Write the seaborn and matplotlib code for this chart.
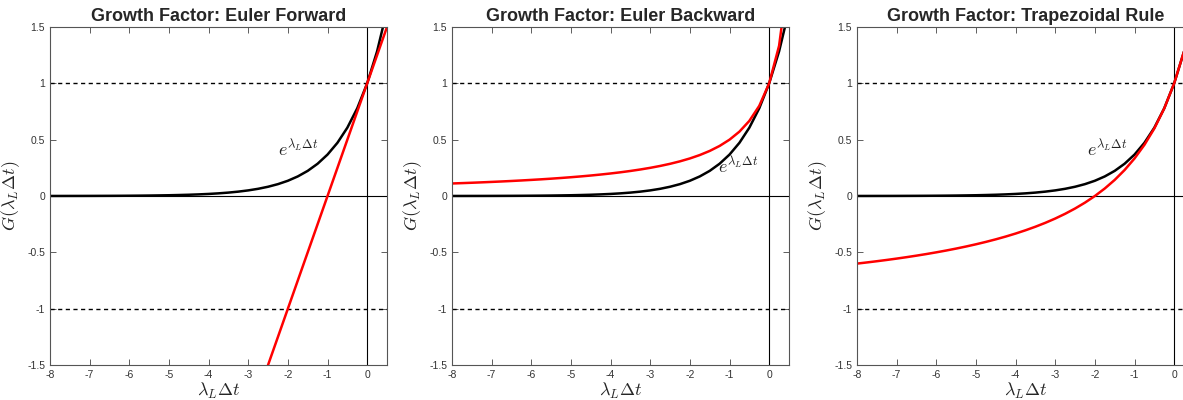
import numpy as np
import pandas as pd
import seaborn as sns
import matplotlib.pyplot as plt

# sample points along lambda_L * dt
x_vals = [-8, -7.75, -7.5, -7.25, -7, -6.75, -6.5, -6.25, -6, -5.75, -5.5, -5.25,
          -5, -4.75, -4.5, -4.25, -4, -3.75, -3.5, -3.25, -3, -2.75, -2.5, -2.25,
          -2, -1.75, -1.5, -1.25, -1, -0.75, -0.5, -0.25, 0, 0.25, 0.5]

# exact growth e^(lambda dt)
exact_g = [0.0003, 0.0004, 0.0006, 0.0007, 0.0009, 0.0012, 0.0015, 0.0019, 0.0025, 0.0032,
           0.0041, 0.0053, 0.0067, 0.0087, 0.0111, 0.0143, 0.0183, 0.0235, 0.0302, 0.0388,
           0.0498, 0.0639, 0.0821, 0.1054, 0.1353, 0.1738, 0.2231, 0.2865, 0.3679, 0.4724,
           0.6065, 0.7788, 1.0, 1.284, 1.6487]

forward_g = [-7, -6.75, -6.5, -6.25, -6, -5.75, -5.5, -5.25, -5, -4.75, -4.5, -4.25,
             -4, -3.75, -3.5, -3.25, -3, -2.75, -2.5, -2.25, -2, -1.75, -1.5, -1.25,
             -1, -0.75, -0.5, -0.25, 0, 0.25, 0.5, 0.75, 1.0, 1.25, 1.5]

backward_g = [0.1111, 0.1143, 0.1176, 0.1212, 0.125, 0.129, 0.1333, 0.1379, 0.1429, 0.1481,
              0.1538, 0.16, 0.1667, 0.1739, 0.1818, 0.1905, 0.2, 0.2105, 0.2222, 0.2353,
              0.25, 0.2667, 0.2857, 0.3077, 0.3333, 0.3636, 0.4, 0.4444, 0.5, 0.5714,
              0.6667, 0.8, 1.0, 1.3333, 2.0]

trap_g = [-0.6, -0.5897, -0.5789, -0.5676, -0.5556, -0.5429, -0.5294, -0.5152, -0.5, -0.4839,
          -0.4667, -0.4483, -0.4286, -0.4074, -0.3846, -0.36, -0.3333, -0.3043, -0.2727, -0.2381,
          -0.2, -0.1579, -0.1111, -0.0588, 0.0, 0.0667, 0.1429, 0.2308, 0.3333, 0.4545,
          0.6, 0.7778, 1.0, 1.2857, 1.6667]

titles = ['Growth Factor: Euler Forward', 'Growth Factor: Euler Backward',
          'Growth Factor: Trapezoidal Rule']
schemes = [forward_g, backward_g, trap_g]
label_pos = [(-2.25, 0.35), (-1.3, 0.2), (-2.2, 0.35)]
x_ticks = [-8, -7, -6, -5, -4, -3, -2, -1, 0]
y_ticks = [-1.5, -1, -0.5, 0, 0.5, 1, 1.5]

sns.set_style('white')
plt.rcParams['font.family'] = ['Liberation Sans', 'DejaVu Sans']
plt.rcParams['mathtext.fontset'] = 'cm'
plt.rcParams['axes.unicode_minus'] = False

W, H = 1183, 400
fig = plt.figure(figsize=(W / 100, H / 100), dpi=100)
lefts = [50, 452, 857]
top, bottom, width = 27, 365, 337

for i in range(3):
    ax = fig.add_axes([lefts[i] / W, 1 - bottom / H, width / W, (bottom - top) / H])
    df = pd.DataFrame({'x': x_vals, 'exact': exact_g, 'scheme': schemes[i]})
    ax.axhline(0, color='black', lw=0.8)
    ax.axvline(0, color='black', lw=0.8)
    ax.axhline(1, color='black', lw=1.0, ls=(0, (3, 2.5)))
    ax.axhline(-1, color='black', lw=1.0, ls=(0, (3, 2.5)))
    sns.lineplot(data=df, x='x', y='exact', color='black', lw=1.8, ax=ax)
    sns.lineplot(data=df, x='x', y='scheme', color='#ff0000', lw=1.8, ax=ax)
    ax.text(label_pos[i][0], label_pos[i][1], r'$e^{\lambda_L \Delta t}$', fontsize=13,
            color='#222222')
    ax.set_xlim(-8, 0.5)
    ax.set_ylim(-1.5, 1.5)
    ax.set_xticks(x_ticks)
    ax.set_yticks(y_ticks)
    ax.set_xticklabels([str(t) for t in x_ticks])
    ax.set_yticklabels(['-1.5', '-1', '-0.5', '0', '0.5', '1', '1.5'])
    ax.tick_params(direction='in', length=4, width=0.6, labelsize=7.5, colors='#444444',
                   top=True, right=True, bottom=True, left=True, labelcolor='#333333')
    for s in ax.spines.values():
        s.set_color('#555555')
        s.set_linewidth(0.8)
    ax.set_xlabel(r'$\lambda_L \Delta t$', fontsize=13, labelpad=1)
    ax.set_ylabel(r'$G(\lambda_L \Delta t)$', fontsize=13, labelpad=4)
    ax.set_title(titles[i], fontsize=13, fontweight='bold', pad=4)

fig.savefig('out.png', dpi=100)
